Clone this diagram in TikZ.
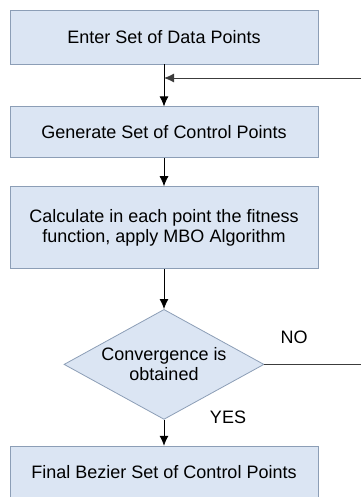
\documentclass[tikz,border=0pt]{standalone}
\usepackage{fontspec}
\setmainfont{Liberation Sans}
\usepackage{tikz}
\usetikzlibrary{arrows.meta,positioning,shapes.geometric}
\usepackage{xcolor}
\definecolor{boxfill}{RGB}{219,229,243}
\definecolor{boxline}{RGB}{140,158,182}
\definecolor{lineclr}{RGB}{60,60,60}

\begin{document}
\begin{tikzpicture}[x=1pt,y=-1pt,font=\fontsize{18}{20}\selectfont]
	\useasboundingbox (0,0) rectangle (361,497);
	\begin{scope}[every node/.style={rectangle,draw=boxline,thick,fill=boxfill,minimum width=308pt,align=center,inner sep=0pt}]
		\node[minimum height=54pt] (enter) at (164,37) {Enter Set of Data Points};
		\node[minimum height=51pt,below =42pt of enter] (generate) {Generate Set of Control Points};
		\node[minimum height=82pt,below =28pt of generate] (fitness) {Calculate in each point the fitness\\function, apply MBO Algorithm};
		\node[diamond,aspect=1.8,minimum width=200pt,minimum height=110pt,below =40pt of fitness] (conv) {Convergence is\\obtained};
		\node[minimum height=52pt,below =26pt of conv] (final) {Final Bezier Set of Control Points};
	\end{scope}

	\node (no) at (294,337) {NO};
	\node (yes) at (228,417) {YES};
	\coordinate (noend) at (361,362);
	\coordinate (backin) at (361,78);

	\begin{scope}[thick]
	\draw[-{Latex[length=10pt,width=9pt]}] (enter) edge (generate);
	\draw[-{Latex[length=10pt,width=9pt]}] (generate) edge (fitness);
	\draw[-{Latex[length=10pt,width=9pt]}] (fitness) edge (conv);
	\draw[-{Latex[length=10pt,width=9pt]}] (conv) edge (final);
	\draw[lineclr] (conv.east) -- (conv.east-|noend);
	\draw[lineclr,-{Latex[length=10pt,width=9pt]}] (backin) -- (enter.south|-backin);
	\end{scope}
\end{tikzpicture}
\end{document}
